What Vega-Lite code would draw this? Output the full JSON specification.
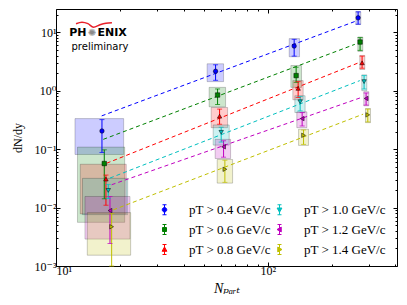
{
 "$schema": "https://vega.github.io/schema/vega-lite/v6.json",
 "width": 341, "height": 257,
 "autosize": {"type": "none"},
 "padding": {"left": 56, "top": 9, "right": 10, "bottom": 39},
 "background": "white",
 "config": {"view": {"stroke": null}, "axis": {"grid": false, "domainColor": "black", "tickColor": "black", "labelColor": "black", "titleColor": "black", "domainWidth": 1},
   "legend": {"orient": "none", "legendX": 102, "legendY": 194, "columns": 2, "title": null, "padding": 0,
        "labelFont": "Liberation Serif, DejaVu Serif", "labelFontSize": 13, "labelColor": "black",
        "symbolSize": 100, "labelOffset": 18, "columnPadding": 2, "rowPadding": 5, "symbolStrokeWidth": 1, "symbolOpacity": 1}},
 "datasets": {
  "pts": [
   {"s":"0.4","n":16.48,"v":0.2043,"lo":0.0877,"hi":0.320,"nlo":12.29,"nhi":20.86,"slo":0.0810,"shi":0.333},
   {"s":"0.4","n":56.66,"v":2.152,"lo":1.505,"hi":2.774,"nlo":51.69,"nhi":61.80,"slo":1.429,"shi":2.886},
   {"s":"0.4","n":133.1,"v":5.804,"lo":3.903,"hi":7.573,"nlo":126.1,"nhi":141.1,"slo":3.811,"shi":7.787},
   {"s":"0.4","n":266.7,"v":17.64,"lo":13.74,"hi":22.39,"nlo":260.2,"nhi":274.6,"slo":13.58,"shi":22.39},
   {"s":"0.6","n":16.90,"v":0.0567,"lo":0.01413,"hi":0.0973,"nlo":12.63,"nhi":21.09,"slo":0.00558,"shi":0.1083},
   {"s":"0.6","n":57.90,"v":0.843,"lo":0.580,"hi":1.070,"nlo":52.82,"nhi":63.17,"slo":0.530,"shi":1.140},
   {"s":"0.6","n":135.99,"v":1.814,"lo":1.390,"hi":2.522,"nlo":128.4,"nhi":144.2,"slo":1.140,"shi":2.698},
   {"s":"0.6","n":272.5,"v":6.804,"lo":4.894,"hi":8.1,"nlo":265.9,"nhi":280.6,"slo":4.703,"shi":8.298},
   {"s":"0.8","n":17.21,"v":0.03075,"lo":0.01096,"hi":0.036,"nlo":13.02,"nhi":21.46,"slo":0.00779,"shi":0.0551},
   {"s":"0.8","n":59.18,"v":0.3663,"lo":0.2666,"hi":0.4836,"nlo":54.0,"nhi":64.55,"slo":0.2330,"shi":0.5154},
   {"s":"0.8","n":138.99,"v":1.096,"lo":0.7665,"hi":1.429,"nlo":131.2,"nhi":146.8,"slo":0.6997,"shi":1.487},
   {"s":"0.8","n":278.5,"v":3.003,"lo":2.424,"hi":3.903,"nlo":271.6,"nhi":286.8,"slo":2.302,"shi":4.012},
   {"s":"1.0","n":17.65,"v":0.01964,"lo":0.01429,"hi":0.0249,"nlo":13.34,"nhi":21.79,"slo":0.00757,"shi":0.0316},
   {"s":"1.0","n":60.22,"v":0.1941,"lo":0.1320,"hi":0.2366,"nlo":55.2,"nhi":65.7,"slo":0.1172,"shi":0.2593},
   {"s":"1.0","n":142.05,"v":0.6461,"lo":0.4519,"hi":0.7977,"nlo":134.1,"nhi":149.9,"slo":0.4224,"shi":0.8199},
   {"s":"1.0","n":284.6,"v":1.429,"lo":1.070,"hi":1.814,"nlo":277.6,"nhi":293.1,"slo":1.0,"shi":1.865},
   {"s":"1.2","n":17.98,"v":0.00888,"lo":0.002424,"hi":0.01548,"nlo":13.70,"nhi":22.34,"slo":0.002886,"shi":0.01548},
   {"s":"1.2","n":61.80,"v":0.1096,"lo":0.0728,"hi":0.1390,"nlo":56.4,"nhi":66.7,"slo":0.0691,"shi":0.1470},
   {"s":"1.2","n":145.17,"v":0.333,"lo":0.2492,"hi":0.4224,"nlo":137.0,"nhi":152.8,"slo":0.2330,"shi":0.4345},
   {"s":"1.2","n":290.9,"v":0.7366,"lo":0.5669,"hi":0.9127,"nlo":283.7,"nhi":299.5,"slo":0.5513,"shi":0.9611},
   {"s":"1.4","n":18.31,"v":0.0047,"lo":0.001,"hi":0.00788,"nlo":14.05,"nhi":22.51,"slo":0.00153,"shi":0.0082},
   {"s":"1.4","n":62.69,"v":0.0452,"lo":0.0270,"hi":0.0646,"nlo":57.66,"nhi":68.17,"slo":0.0262,"shi":0.0665},
   {"s":"1.4","n":147.4,"v":0.1723,"lo":0.1205,"hi":0.2127,"nlo":139.6,"nhi":155.6,"slo":0.1158,"shi":0.2186},
   {"s":"1.4","n":296.3,"v":0.3857,"lo":0.2921,"hi":0.4836,"nlo":289.1,"nhi":305.1,"slo":0.2841,"shi":0.4953}
  ],
  "fit": [
   {"s":"0.4","n":16.43,"v":0.3707},{"s":"0.4","n":262.1,"v":15.66},
   {"s":"0.6","n":16.72,"v":0.1470},{"s":"0.6","n":257.3,"v":6.21},
   {"s":"0.8","n":17.35,"v":0.0574},{"s":"0.8","n":266.7,"v":2.98},
   {"s":"1.0","n":17.98,"v":0.0320},{"s":"1.0","n":271.6,"v":1.487},
   {"s":"1.2","n":18.31,"v":0.0246},{"s":"1.2","n":276.7,"v":0.7665},
   {"s":"1.4","n":18.63,"v":0.00913},{"s":"1.4","n":281.6,"v":0.3965}
  ],
  "logo": [
   {"t":"PH","k":"left","n":13.93,"v":8.53},
   {"t":"✺","k":"star","n":14.78,"v":9.61},
   {"t":"ENIX","k":"right","n":15.70,"v":8.53},
   {"t":"preliminary","k":"sub","n":16.13,"v":4.99}
  ],
  "swoosh": [
   {"n":12.43,"v":14.02},{"n":13.26,"v":14.88},{"n":14.16,"v":14.02},{"n":15.03,"v":12.20},
   {"n":16.13,"v":13.47},{"n":17.21,"v":14.30},{"n":18.37,"v":14.58}
  ]
 },
 "layer": [
  {
   "data": {"name": "pts"},
   "mark": {"type": "rect", "fillOpacity": 0.2, "stroke": "black", "strokeOpacity": 0.2, "strokeWidth": 1},
   "encoding": {
    "x": {"field": "nlo", "type": "quantitative", "scale": {"type": "log", "domain": [10, 407], "nice": false},
      "axis": {"orient": "bottom", "values": [10,20,30,40,50,60,70,80,90,100,200,300,400],
        "labelExpr": "datum.value==10?'10¹':datum.value==100?'10²':''",
        "tickSize": {"condition": {"test": "datum.value==10||datum.value==100", "value": -4}, "value": -2},
        "labelPadding": 3, "labelFont": "Liberation Serif, DejaVu Serif", "labelFontSize": 12,
        "title": "Nₚₐᵣₜ", "titleFont": "Liberation Serif, DejaVu Serif", "titleFontSize": 14, "titleFontWeight": "normal", "titleFontStyle": "italic", "titlePadding": 5}},
    "x2": {"field": "nhi"},
    "y": {"field": "slo", "type": "quantitative", "scale": {"type": "log", "domain": [0.001, 25], "nice": false},
      "axis": {"orient": "left", "values": [0.001,0.002,0.003,0.004,0.005,0.006,0.007,0.008,0.009,0.01,0.02,0.03,0.04,0.05,0.06,0.07,0.08,0.09,0.1,0.2,0.3,0.4,0.5,0.6,0.7,0.8,0.9,1,2,3,4,5,6,7,8,9,10,20],
        "labelExpr": "datum.value==0.001?'10⁻³':datum.value==0.01?'10⁻²':datum.value==0.1?'10⁻¹':datum.value==1?'10⁰':datum.value==10?'10¹':''",
        "tickSize": {"condition": {"test": "datum.value==0.001||datum.value==0.01||datum.value==0.1||datum.value==1||datum.value==10", "value": -4}, "value": -2},
        "labelPadding": 4, "labelFont": "Liberation Serif, DejaVu Serif", "labelFontSize": 12,
        "title": "dN/dy", "titleAngle": 270, "titleFont": "Liberation Serif, DejaVu Serif", "titleFontSize": 12, "titleFontWeight": "normal", "titlePadding": 10}},
    "y2": {"field": "shi"},
    "color": {"field": "s", "type": "nominal",
      "scale": {"domain": ["0.4","0.6","0.8","1.0","1.2","1.4"], "range": ["#0000ff","#008000","#ff0000","#00bfbf","#bf00bf","#bfbf00"]}}
   }
  },
  {
   "data": {"name": "fit"},
   "mark": {"type": "line", "strokeDash": [4, 3], "strokeWidth": 1},
   "encoding": {
    "x": {"field": "n", "type": "quantitative", "scale": {"type": "log", "domain": [10, 407], "nice": false},
      "axis": {"orient": "top", "values": [10,20,30,40,50,60,70,80,90,100,200,300,400], "labels": false, "title": null,
        "tickSize": {"condition": {"test": "datum.value==10||datum.value==100", "value": -4}, "value": -2}}},
    "y": {"field": "v", "type": "quantitative", "scale": {"type": "log", "domain": [0.001, 25], "nice": false},
      "axis": {"orient": "right", "values": [0.001,0.002,0.003,0.004,0.005,0.006,0.007,0.008,0.009,0.01,0.02,0.03,0.04,0.05,0.06,0.07,0.08,0.09,0.1,0.2,0.3,0.4,0.5,0.6,0.7,0.8,0.9,1,2,3,4,5,6,7,8,9,10,20], "labels": false, "title": null,
        "tickSize": {"condition": {"test": "datum.value==0.001||datum.value==0.01||datum.value==0.1||datum.value==1||datum.value==10", "value": -4}, "value": -2}}},
    "color": {"field": "s", "type": "nominal",
      "scale": {"domain": ["0.4","0.6","0.8","1.0","1.2","1.4"], "range": ["#0000ff","#008000","#ff0000","#00bfbf","#bf00bf","#bfbf00"]}}
   }
  },
  {
   "data": {"name": "pts"},
   "mark": {"type": "rule", "strokeWidth": 1},
   "encoding": {
    "x": {"field": "n", "type": "quantitative", "scale": {"type": "log", "domain": [10, 407], "nice": false}, "axis": null},
    "y": {"field": "lo", "type": "quantitative", "scale": {"type": "log", "domain": [0.001, 25], "nice": false}, "axis": null},
    "y2": {"field": "hi"},
    "color": {"field": "s", "type": "nominal",
      "scale": {"domain": ["0.4","0.6","0.8","1.0","1.2","1.4"], "range": ["#0000ff","#008000","#ff0000","#00bfbf","#bf00bf","#bfbf00"]}}
   }
  },
  {
   "data": {"name": "pts"},
   "mark": {"type": "tick", "orient": "horizontal", "size": 5, "thickness": 1},
   "encoding": {
    "x": {"field": "n", "type": "quantitative", "scale": {"type": "log", "domain": [10, 407], "nice": false}, "axis": null},
    "y": {"field": "lo", "type": "quantitative", "scale": {"type": "log", "domain": [0.001, 25], "nice": false}, "axis": null},
    "color": {"field": "s", "type": "nominal",
      "scale": {"domain": ["0.4","0.6","0.8","1.0","1.2","1.4"], "range": ["#0000ff","#008000","#ff0000","#00bfbf","#bf00bf","#bfbf00"]}}
   }
  },
  {
   "data": {"name": "pts"},
   "mark": {"type": "tick", "orient": "horizontal", "size": 5, "thickness": 1},
   "encoding": {
    "x": {"field": "n", "type": "quantitative", "scale": {"type": "log", "domain": [10, 407], "nice": false}, "axis": null},
    "y": {"field": "hi", "type": "quantitative", "scale": {"type": "log", "domain": [0.001, 25], "nice": false}, "axis": null},
    "color": {"field": "s", "type": "nominal",
      "scale": {"domain": ["0.4","0.6","0.8","1.0","1.2","1.4"], "range": ["#0000ff","#008000","#ff0000","#00bfbf","#bf00bf","#bfbf00"]}}
   }
  },
  {
   "data": {"name": "pts"},
   "mark": {"type": "point", "filled": true, "size": 20, "opacity": 1, "stroke": "black", "strokeWidth": 0.5},
   "encoding": {
    "x": {"field": "n", "type": "quantitative", "scale": {"type": "log", "domain": [10, 407], "nice": false}, "axis": null},
    "y": {"field": "v", "type": "quantitative", "scale": {"type": "log", "domain": [0.001, 25], "nice": false}, "axis": null},
    "shape": {"condition": [
      {"test": "datum.s=='0.6'", "value": "square"},
      {"test": "datum.s=='0.8'", "value": "triangle-up"},
      {"test": "datum.s=='1.0'", "value": "triangle-down"},
      {"test": "datum.s=='1.2'", "value": "triangle-left"},
      {"test": "datum.s=='1.4'", "value": "triangle-right"}], "value": "circle"},
    "color": {"field": "s", "type": "nominal",
      "scale": {"domain": ["0.4","0.6","0.8","1.0","1.2","1.4"], "range": ["#0000ff","#008000","#ff0000","#00bfbf","#bf00bf","#bfbf00"]},
      "legend": {"labelExpr": "'pT > ' + datum.label + ' GeV/c'",
        "symbolStrokeColor": {"expr": "scale('color', datum.value)"},
        "symbolFillColor": {"expr": "scale('color', datum.value)"},
        "symbolType": {"expr": "datum.value=='0.4' ? 'M0,-1L0,1M-0.4,-1L0.4,-1M-0.4,1L0.4,1M-0.45,0A0.45,0.45,0,1,1,0.45,0A0.45,0.45,0,1,1,-0.45,0Z' : datum.value=='0.6' ? 'M0,-1L0,1M-0.4,-1L0.4,-1M-0.4,1L0.4,1M-0.4,-0.4L0.4,-0.4L0.4,0.4L-0.4,0.4Z' : datum.value=='0.8' ? 'M0,-1L0,1M-0.4,-1L0.4,-1M-0.4,1L0.4,1M0,-0.5L0.48,0.35L-0.48,0.35Z' : datum.value=='1.0' ? 'M0,-1L0,1M-0.4,-1L0.4,-1M-0.4,1L0.4,1M0,0.5L0.48,-0.35L-0.48,-0.35Z' : datum.value=='1.2' ? 'M0,-1L0,1M-0.4,-1L0.4,-1M-0.4,1L0.4,1M-0.5,0L0.35,-0.48L0.35,0.48Z' : 'M0,-1L0,1M-0.4,-1L0.4,-1M-0.4,1L0.4,1M0.5,0L-0.35,-0.48L-0.35,0.48Z'"}}}
   }
  },
  {
   "data": {"name": "swoosh"},
   "mark": {"type": "line", "color": "#e8202a", "strokeWidth": 1.5, "interpolate": "monotone"},
   "encoding": {
    "x": {"field": "n", "type": "quantitative", "scale": {"type": "log", "domain": [10, 407], "nice": false}, "axis": null},
    "y": {"field": "v", "type": "quantitative", "scale": {"type": "log", "domain": [0.001, 25], "nice": false}, "axis": null}
   }
  },
  {
   "data": {"name": "logo"},
   "transform": [{"filter": "datum.k=='left'"}],
   "mark": {"type": "text", "align": "right", "baseline": "alphabetic", "font": "DejaVu Sans", "fontWeight": "bold", "fontSize": 11, "color": "black"},
   "encoding": {
    "x": {"field": "n", "type": "quantitative", "scale": {"type": "log", "domain": [10, 407], "nice": false}, "axis": null},
    "y": {"field": "v", "type": "quantitative", "scale": {"type": "log", "domain": [0.001, 25], "nice": false}, "axis": null},
    "text": {"field": "t"}
   }
  },
  {
   "data": {"name": "logo"},
   "transform": [{"filter": "datum.k=='star'"}],
   "mark": {"type": "text", "align": "center", "baseline": "middle", "font": "DejaVu Sans", "fontSize": 10, "color": "#8a8a8a"},
   "encoding": {
    "x": {"field": "n", "type": "quantitative", "scale": {"type": "log", "domain": [10, 407], "nice": false}, "axis": null},
    "y": {"field": "v", "type": "quantitative", "scale": {"type": "log", "domain": [0.001, 25], "nice": false}, "axis": null},
    "text": {"field": "t"}
   }
  },
  {
   "data": {"name": "logo"},
   "transform": [{"filter": "datum.k=='right'"}],
   "mark": {"type": "text", "align": "left", "baseline": "alphabetic", "font": "DejaVu Sans", "fontWeight": "bold", "fontSize": 11, "color": "black"},
   "encoding": {
    "x": {"field": "n", "type": "quantitative", "scale": {"type": "log", "domain": [10, 407], "nice": false}, "axis": null},
    "y": {"field": "v", "type": "quantitative", "scale": {"type": "log", "domain": [0.001, 25], "nice": false}, "axis": null},
    "text": {"field": "t"}
   }
  },
  {
   "data": {"name": "logo"},
   "transform": [{"filter": "datum.k=='sub'"}],
   "mark": {"type": "text", "align": "center", "baseline": "alphabetic", "font": "DejaVu Sans", "fontSize": 10, "color": "black"},
   "encoding": {
    "x": {"field": "n", "type": "quantitative", "scale": {"type": "log", "domain": [10, 407], "nice": false}, "axis": null},
    "y": {"field": "v", "type": "quantitative", "scale": {"type": "log", "domain": [0.001, 25], "nice": false}, "axis": null},
    "text": {"field": "t"}
   }
  }
 ],
 "resolve": {"axis": {"x": "independent", "y": "independent"}}
}
